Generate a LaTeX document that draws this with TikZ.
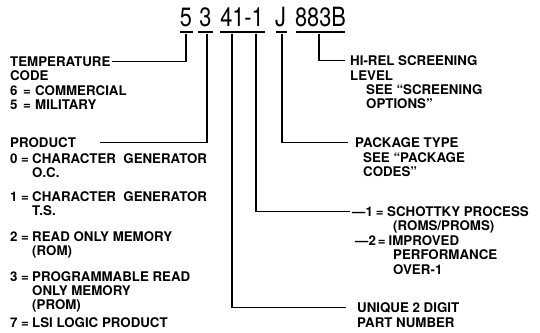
\documentclass[tikz,border=0pt]{standalone}
\usepackage{fontspec}
\setmainfont{TeX Gyre Heros}
\newfontfamily\titlefont[FakeStretch=0.82]{TeX Gyre Heros}
\newcommand\eqitem[3]{\makebox[#1][l]{#2}#3}
\begin{document}
\begin{tikzpicture}[x=1pt,y=-1pt,
  lbl/.style={anchor=base west, inner sep=0pt, font=\fontsize{13.3}{14}\selectfont\bfseries, text height=9.5pt, text depth=0pt},
  ttl/.style={anchor=base, inner sep=0pt, font=\titlefont\fontsize{26.5}{30}\selectfont},
  bar/.style={fill=black, inner sep=0pt, minimum height=2.7pt},
  conn/.style={draw=black, line width=1.3pt}]
\useasboundingbox (0,0) rectangle (540,332);
% title
\node[ttl] (t5) at (186,26) {5};
\node[ttl] (t3) at (205.5,26) {3};
\node[ttl] (t41) at (242,26) {41-1};
\node[ttl] (tJ) at (280.5,26) {J};
\node[ttl] (t883) at (320.5,26) {883B};
% bars
\node[bar, minimum width=13pt] (b5) at (186.5,32) {};
\node[bar, minimum width=15pt] (b3) at (205.5,32) {};
\node[bar, minimum width=45pt] (b41) at (242.5,32) {};
\node[bar, minimum width=11pt] (bJ) at (281.5,32) {};
\node[bar, minimum width=49pt] (b883) at (320.5,32) {};
% left texts
\node[lbl] (temp) at (10,66.5) {TEMPERATURE};
\node[lbl] (code) at (10,80.5) {CODE};
\node[lbl] (com) at (10,95) {\eqitem{25pt}{6\hspace{5.5pt}=}{COMMERCIAL}};
\node[lbl] (mil) at (10,109.5) {\eqitem{25pt}{5\hspace{5.5pt}=}{MILITARY}};
\node[lbl] (prod) at (10,147.5) {PRODUCT};
\node[lbl] (p0) at (10,163) {\eqitem{22pt}{0\hspace{3.5pt}=}{CHARACTER\ \ GENERATOR}};
\node[lbl] (p0b) at (32,177) {O.C.};
\node[lbl] (p1) at (10,201) {\eqitem{22pt}{1\hspace{3.5pt}=}{CHARACTER\ \ GENERATOR}};
\node[lbl] (p1b) at (32,215.5) {T.S.};
\node[lbl] (p2) at (10,241) {\eqitem{22pt}{2\hspace{3.5pt}=}{READ\ ONLY\ MEMORY}};
\node[lbl] (p2b) at (32,255.5) {(ROM)};
\node[lbl] (p3) at (10,281) {\eqitem{22pt}{3\hspace{3.5pt}=}{PROGRAMMABLE\ READ}};
\node[lbl] (p3b) at (32,295) {ONLY\ MEMORY};
\node[lbl] (p3c) at (32,309) {(PROM)};
\node[lbl] (p7) at (10,327) {\eqitem{22pt}{7\hspace{3.5pt}=}{LSI\ LOGIC\ PRODUCT}};
% right texts
\node[lbl] (hirel) at (350,65.5) {HI-REL SCREENING};
\node[lbl] (level) at (350,80) {LEVEL};
\node[lbl] (seescr) at (366,94) {SEE “SCREENING};
\node[lbl] (opt) at (366,108) {OPTIONS”};
\node[lbl] (pack) at (355,147.5) {PACKAGE TYPE};
\node[lbl] (seepack) at (363,162) {SEE “PACKAGE};
\node[lbl] (codes) at (363,176) {CODES”};
\node[lbl] (schot) at (352,216) {\eqitem{35pt}{—1\hspace{3pt}=}{SCHOTTKY PROCESS}};
\node[lbl] (roms) at (393,230.5) {(ROMS/PROMS)};
\node[lbl] (impr) at (355,245) {\eqitem{33.5pt}{—2\hspace{2pt}=}{IMPROVED}};
\node[lbl] (perf) at (393,259.5) {PERFORMANCE};
\node[lbl] (over) at (393,274) {OVER-1};
\node[lbl] (uniq) at (357,312.5) {UNIQUE 2 DIGIT};
\node[lbl] (part) at (357,327) {PART NUMBER};
% connectors
\draw[conn] ([xshift=-0.5pt]b5.south) |- ([xshift=1.5pt]temp.east);
\draw[conn] ([xshift=1.5pt]b3.south) |- ([xshift=24pt]prod.east);
\draw[conn] ([xshift=-10.5pt]b41.south) |- ([xshift=-11pt]uniq.west);
\draw[conn] ([xshift=13.5pt]b41.south) |- ([xshift=-2pt]schot.west);
\draw[conn] ([xshift=0.5pt]bJ.south) |- ([xshift=-7pt]pack.west);
\draw[conn] ([xshift=-1.5pt]b883.south) |- ([xshift=-5pt]hirel.west);
\end{tikzpicture}
\end{document}
